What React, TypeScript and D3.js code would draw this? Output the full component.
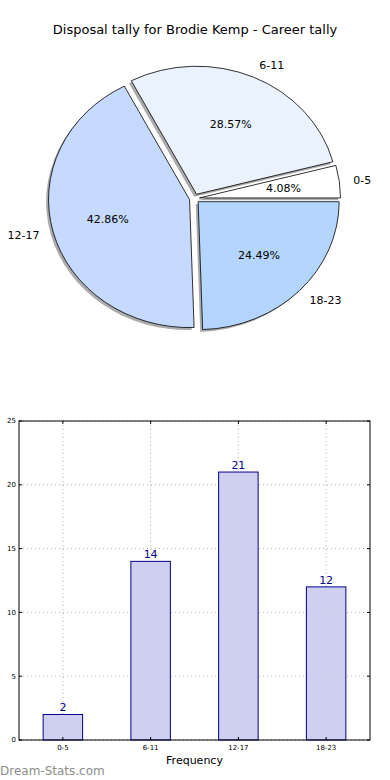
import React from 'react'
import * as d3 from 'd3'

const categories = ['0-5', '6-11', '12-17', '18-23']
const counts = [2, 14, 21, 12]
const sliceColors = ['#ffffff', '#eaf2fe', '#c6d9fe', '#b4d5fe']
const yTicks = [0, 5, 10, 15, 20, 25]

const W = 390
const H = 780
const FONT = 'DejaVu Sans, sans-serif'

function PieChart() {
  const cx = 194.5
  const cy = 198.5
  const rx = 141
  const ry = 128
  const explode = 0.036
  const total = d3.sum(counts)

  // matplotlib starts at 3 o'clock and goes counter-clockwise
  const pie = d3.pie<number>().sort(null).startAngle(Math.PI / 2).endAngle(Math.PI / 2 - 2 * Math.PI)
  const arcs = pie(counts)
  const arc = d3.arc<d3.PieArcDatum<number>>().innerRadius(0).outerRadius(1)

  const wedges = arcs.map((a, i) => {
    const m = (a.startAngle + a.endAngle) / 2
    const dx = Math.sin(m)
    const dy = -Math.cos(m)
    const ox = cx + explode * rx * dx
    const oy = cy + explode * ry * dy
    return { a, i, dx, dy, ox, oy }
  })

  return (
    <g>
      <text x={W / 2} y={34} textAnchor="middle" fontSize={13} fontFamily={FONT} fill="#000">
        Disposal tally for Brodie Kemp - Career tally
      </text>
      {/* shadows */}
      {wedges.map(w => (
        <path key={'s' + w.i} d={arc(w.a) || ''}
          transform={`translate(${w.ox - 2.4},${w.oy + 2.4}) scale(${rx},${ry})`}
          fill="#888" fillOpacity={0.7} />
      ))}
      {wedges.map(w => (
        <path key={'w' + w.i} d={arc(w.a) || ''}
          transform={`translate(${w.ox},${w.oy}) scale(${rx},${ry})`}
          fill={sliceColors[w.i]} stroke="#000" strokeWidth={0.8}
          vectorEffect="non-scaling-stroke" strokeLinejoin="miter" />
      ))}
      {wedges.map(w => (
        <g key={'t' + w.i} fontFamily={FONT} fontSize={11} fill="#000">
          <text x={w.ox + 1.1 * rx * w.dx} y={w.oy + 1.1 * ry * w.dy} dy="0.35em"
            textAnchor={w.dx > 0 ? 'start' : 'end'}>
            {categories[w.i]}
          </text>
          <text x={w.ox + 0.6 * rx * w.dx} y={w.oy + 0.6 * ry * w.dy} dy="0.35em" textAnchor="middle">
            {(counts[w.i] / total * 100).toFixed(2)}%
          </text>
        </g>
      ))}
    </g>
  )
}

function BarChart() {
  const left = 19
  const right = 370
  const top = 421
  const bottom = 740

  const x = d3.scaleLinear().domain([-0.5, categories.length - 0.5]).range([left, right])
  const y = d3.scaleLinear().domain([0, 25]).range([bottom, top])
  const barW = 0.45 * (x(1) - x(0))

  return (
    <g fontFamily={FONT}>
      {/* grid */}
      {categories.map((c, i) => (
        <line key={'gx' + i} x1={x(i)} x2={x(i)} y1={top} y2={bottom}
          stroke="#b0b0b0" strokeWidth={1} strokeDasharray="1,3" />
      ))}
      {yTicks.map(t => (
        <line key={'gy' + t} x1={left} x2={right} y1={y(t)} y2={y(t)}
          stroke="#b0b0b0" strokeWidth={1} strokeDasharray="1,3" />
      ))}
      {/* bars */}
      {counts.map((v, i) => (
        <g key={'b' + i}>
          <rect x={x(i) - barW / 2} y={y(v)} width={barW} height={bottom - y(v)}
            fill="#ccccee" fillOpacity={0.95} stroke="#00008b" strokeWidth={1} />
          <text x={x(i)} y={y(v) - 3} textAnchor="middle" fontSize={11} fill="#00008b">{v}</text>
        </g>
      ))}
      {/* frame */}
      <rect x={left} y={top} width={right - left} height={bottom - top} fill="none" stroke="#000" strokeWidth={1} />
      {/* ticks */}
      {yTicks.map(t => (
        <g key={'ty' + t}>
          <line x1={left} x2={left + 3} y1={y(t)} y2={y(t)} stroke="#000" />
          <line x1={right - 3} x2={right} y1={y(t)} y2={y(t)} stroke="#000" />
          <text x={left - 3} y={y(t)} dy="0.35em" textAnchor="end" fontSize={7} fill="#000">{t}</text>
        </g>
      ))}
      {categories.map((c, i) => (
        <g key={'tx' + i}>
          <line x1={x(i)} x2={x(i)} y1={bottom} y2={bottom - 3} stroke="#000" />
          <line x1={x(i)} x2={x(i)} y1={top} y2={top + 3} stroke="#000" />
          <text x={x(i)} y={bottom + 10} textAnchor="middle" fontSize={7} fill="#000">{c}</text>
        </g>
      ))}
      <text x={(left + right) / 2} y={764} textAnchor="middle" fontSize={11} fill="#000">Frequency</text>
      {/* y label sits mostly off the canvas, as in the original */}
      <text transform={`translate(-1,${(top + bottom) / 2}) rotate(-90)`} textAnchor="middle" fontSize={10} fill="#000">
        Occurrences
      </text>
      <text x={0} y={775} fontSize={12} fill="#8c8c8c">Dream-Stats.com</text>
    </g>
  )
}

export default function App() {
  return (
    <svg width={W} height={H} style={{ position: 'absolute', left: 0, top: 0, background: '#fff' }}>
      <rect width={W} height={H} fill="#fff" />
      <PieChart />
      <BarChart />
    </svg>
  )
}
